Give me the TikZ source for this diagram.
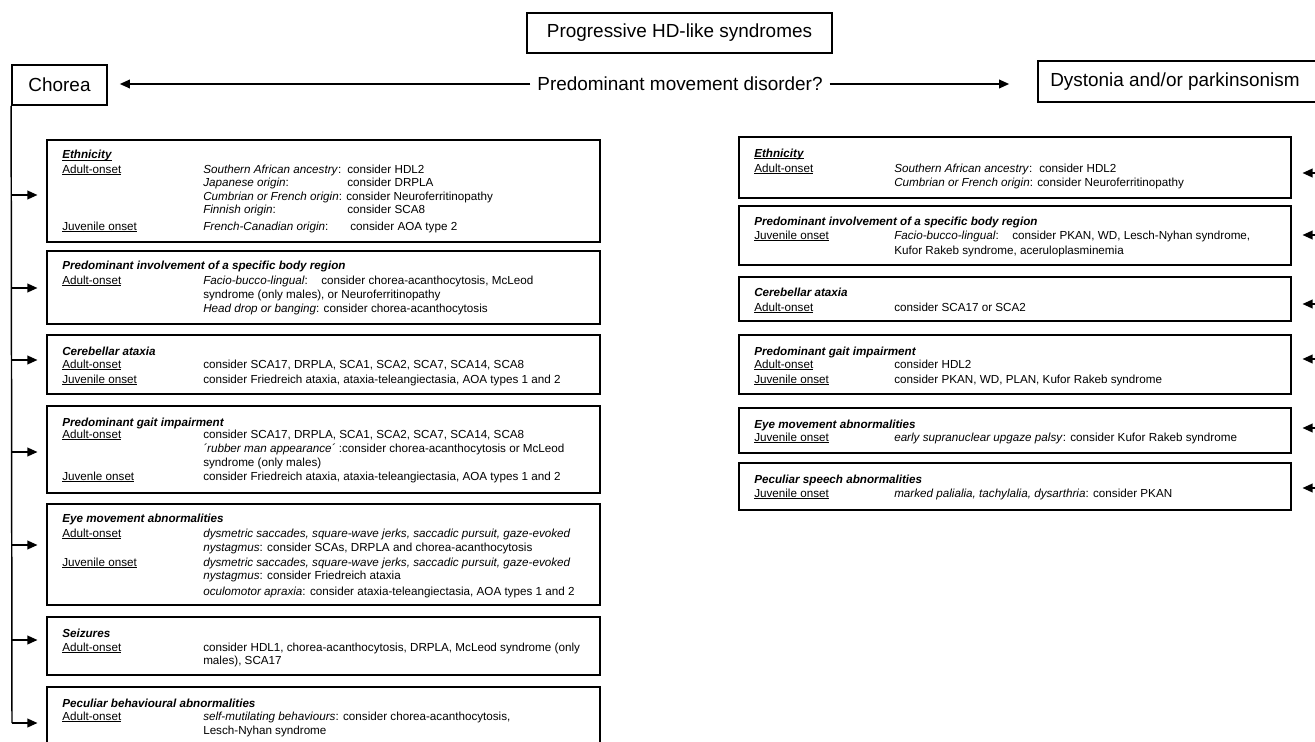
\documentclass[tikz,border=0pt]{standalone}
\usepackage{fontspec}
\setmainfont{Liberation Sans}
\usetikzlibrary{arrows.meta,fit}
\newcounter{tlc}
\newcommand\TL[3]{\stepcounter{tlc}\node[txt] (tl\arabic{tlc}) at (#1,#2) {#3};}
\newcommand\U[1]{\setbox0\hbox{#1}\rlap{\rule[-1.5pt]{\wd0}{0.65pt}}\box0}
\newcommand\Hd[1]{\textbf{\textit{#1}}}
\newcommand\BX[5]{\node[box,fit={(#2,#3)(#4,#5)}] (#1) {};}
\begin{document}
\begin{tikzpicture}[x=0.75pt,y=-0.75pt,
  txt/.style={anchor=base west,inner sep=0pt,font=\fontsize{8.75}{10}\selectfont},
  big/.style={inner sep=0pt,font=\fontsize{14.2}{17}\selectfont},
  box/.style={draw,line width=1.3pt,inner sep=0pt},
  arr/.style={line width=1.1pt,-{Triangle[length=7.5pt,width=6.5pt]}}]
\useasboundingbox (0,0) rectangle (1315,742);
\clip (0,0) rectangle (1315,742);
% top
\BX{prog}{527}{13}{832}{53}
\node[big] (progt) at (prog.center) {Progressive HD-like syndromes};
\BX{chorea}{12}{65}{107}{105}
\node[big] (choreat) at (chorea.center) {Chorea};
\BX{dyst}{1038}{61}{1325}{102}
\node[big,anchor=west] (dystt) at (1050,82) {Dystonia and/or parkinsonism};
\node[big,inner xsep=5pt] (q) at (680,84) {Predominant movement disorder?};
\draw[arr,shorten >=9pt] (q.west) -- (q.west -| chorea.east);
\draw[arr,shorten >=21pt] (q.east) -- (q.east -| dyst.west);
% left boxes
\BX{L1}{47}{140}{600}{242}
\BX{L2}{47}{251}{600}{324}
\BX{L3}{47}{335}{600}{394}
\BX{L4}{47}{406}{600}{493}
\BX{L5}{47}{504}{600}{605}
\BX{L6}{47}{617}{600}{675}
\BX{L7}{47}{687}{600}{770}
\coordinate (a1) at (12,195);
\coordinate (a2) at (12,288);
\coordinate (a3) at (12,360);
\coordinate (a4) at (12,452);
\coordinate (a5) at (12,545);
\coordinate (a6) at (12,640);
\coordinate (a7) at (12,723);
\draw[line width=1.1pt] (chorea.south west) -- (a7);
\foreach \k in {1,...,7}{
  \draw[arr,shorten >=6.5pt] (a\k) -- (a\k -| L\k.west);
}
% right boxes
\BX{R1}{739}{137}{1291}{198}
\BX{R2}{739}{206}{1291}{265}
\BX{R3}{739}{277}{1291}{321}
\BX{R4}{739}{335}{1291}{394}
\BX{R5}{739}{408}{1291}{453}
\BX{R6}{739}{463}{1291}{510}
\coordinate (b1) at (1330,173);
\coordinate (b2) at (1330,235);
\coordinate (b3) at (1330,304);
\coordinate (b4) at (1330,359);
\coordinate (b5) at (1330,428);
\coordinate (b6) at (1330,488);
\foreach \k in {1,...,6}{
  \draw[arr,shorten >=8pt] (b\k) -- (b\k -| R\k.east);
}
% L1
\TL{62}{159}{\U{\Hd{Ethnicity}}}
\TL{62}{173}{\U{Adult-onset}}
\TL{203}{173}{\textit{Southern African ancestry}:}
\TL{347}{173}{consider HDL2}
\TL{203}{186}{\textit{Japanese origin}:}
\TL{347}{186}{consider DRPLA}
\TL{203}{200}{\textit{Cumbrian or French origin}: consider Neuroferritinopathy}
\TL{203}{214}{\textit{Finnish origin}:}
\TL{347}{214}{consider SCA8}
\TL{62}{230}{\U{Juvenile onset}}
\TL{203}{230}{\textit{French-Canadian origin}:}
\TL{350}{230}{consider AOA type 2}
% L2
\TL{62}{269}{\Hd{Predominant involvement of a specific body region}}
\TL{62}{284}{\U{Adult-onset}}
\TL{203}{284}{\textit{Facio-bucco-lingual}:}
\TL{321}{284}{consider chorea-acanthocytosis, McLeod}
\TL{203}{298}{syndrome (only males), or Neuroferritinopathy}
\TL{203}{312}{\textit{Head drop or banging}: consider chorea-acanthocytosis}
% L3
\TL{62}{355}{\Hd{Cerebellar ataxia}}
\TL{62}{368}{\U{Adult-onset}}
\TL{203}{368}{consider SCA17, DRPLA, SCA1, SCA2, SCA7, SCA14, SCA8}
\TL{62}{383}{\U{Juvenile onset}}
\TL{203}{383}{consider Friedreich ataxia, ataxia-teleangiectasia, AOA types 1 and 2}
% L4
\TL{62}{426}{\Hd{Predominant gait impairment}}
\TL{62}{438}{\U{Adult-onset}}
\TL{203}{438}{consider SCA17, DRPLA, SCA1, SCA2, SCA7, SCA14, SCA8}
\TL{203}{452}{\textit{´rubber man appearance´} :consider chorea-acanthocytosis or McLeod}
\TL{203}{466}{syndrome (only males)}
\TL{62}{480}{\U{Juvenle onset}}
\TL{203}{480}{consider Friedreich ataxia, ataxia-teleangiectasia, AOA types 1 and 2}
% L5
\TL{62}{522}{\Hd{Eye movement abnormalities}}
\TL{62}{537}{\U{Adult-onset}}
\TL{203}{537}{\textit{dysmetric saccades, square-wave jerks, saccadic pursuit, gaze-evoked}}
\TL{203}{551}{\textit{nystagmus}: consider SCAs, DRPLA and chorea-acanthocytosis}
\TL{62}{566}{\U{Juvenile onset}}
\TL{203}{566}{\textit{dysmetric saccades, square-wave jerks, saccadic pursuit, gaze-evoked}}
\TL{203}{579}{\textit{nystagmus}: consider Friedreich ataxia}
\TL{203}{595}{\textit{oculomotor apraxia}: consider ataxia-teleangiectasia, AOA types 1 and 2}
% L6
\TL{62}{637}{\Hd{Seizures}}
\TL{62}{651}{\U{Adult-onset}}
\TL{203}{651}{consider HDL1, chorea-acanthocytosis, DRPLA, McLeod syndrome (only}
\TL{203}{664}{males), SCA17}
% L7
\TL{62}{707}{\Hd{Peculiar behavioural abnormalities}}
\TL{62}{720}{\U{Adult-onset}}
\TL{203}{720}{\textit{self-mutilating behaviours}: consider chorea-acanthocytosis,}
\TL{203}{734}{Lesch-Nyhan syndrome}
% R1
\TL{754}{157}{\U{\Hd{Ethnicity}}}
\TL{754}{172}{\U{Adult-onset}}
\TL{894}{172}{\textit{Southern African ancestry}:}
\TL{1039}{172}{consider HDL2}
\TL{894}{186}{\textit{Cumbrian or French origin}: consider Neuroferritinopathy}
% R2
\TL{754}{225}{\Hd{Predominant involvement of a specific body region}}
\TL{754}{239}{\U{Juvenile onset}}
\TL{894}{239}{\textit{Facio-bucco-lingual}:}
\TL{1012}{239}{consider PKAN, WD, Lesch-Nyhan syndrome,}
\TL{894}{254}{Kufor Rakeb syndrome, aceruloplasminemia}
% R3
\TL{754}{296}{\Hd{Cerebellar ataxia}}
\TL{754}{311}{\U{Adult-onset}}
\TL{894}{311}{consider SCA17 or SCA2}
% R4
\TL{754}{355}{\Hd{Predominant gait impairment}}
\TL{754}{368}{\U{Adult-onset}}
\TL{894}{368}{consider HDL2}
\TL{754}{383}{\U{Juvenile onset}}
\TL{894}{383}{consider PKAN, WD, PLAN, Kufor Rakeb syndrome}
% R5
\TL{754}{428}{\Hd{Eye movement abnormalities}}
\TL{754}{441}{\U{Juvenile onset}}
\TL{894}{441}{\textit{early supranuclear upgaze palsy}: consider Kufor Rakeb syndrome}
% R6
\TL{754}{483}{\Hd{Peculiar speech abnormalities}}
\TL{754}{497}{\U{Juvenile onset}}
\TL{894}{497}{\textit{marked palialia, tachylalia, dysarthria}: consider PKAN}
\end{tikzpicture}
\end{document}
